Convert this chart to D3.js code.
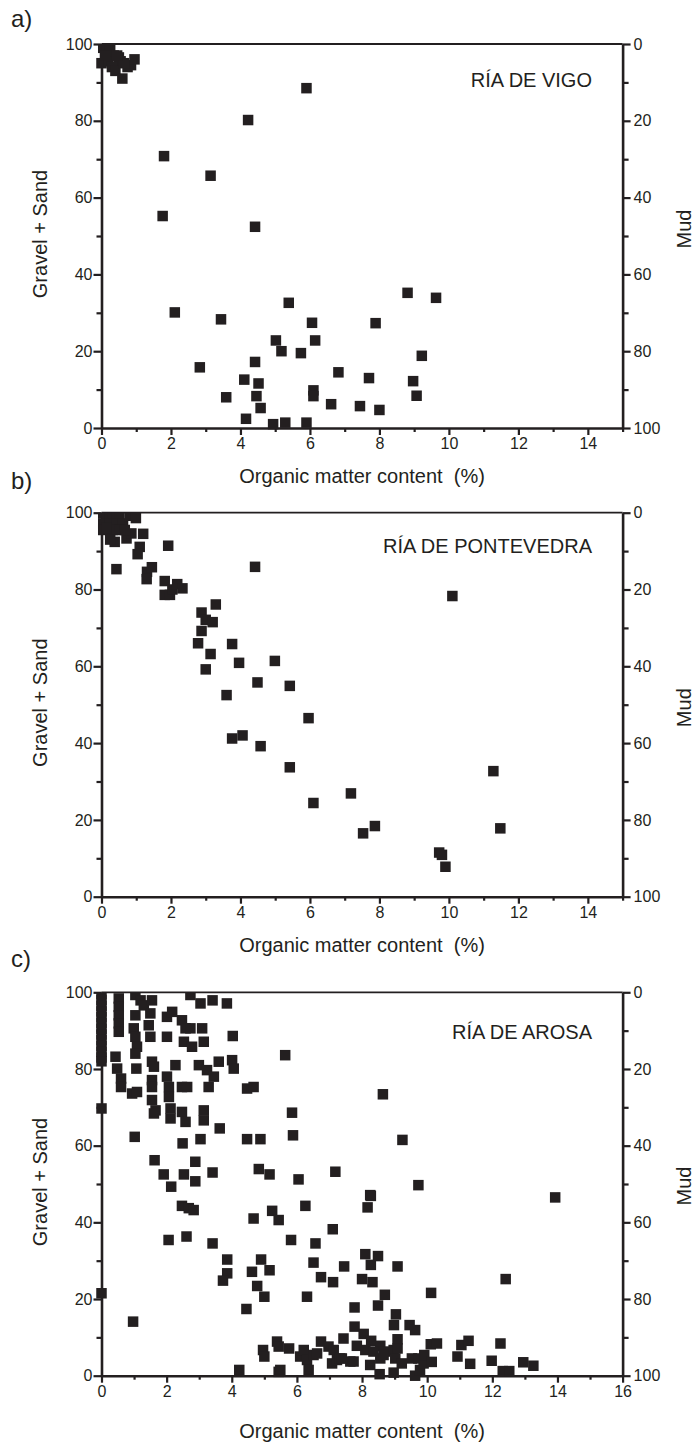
<!DOCTYPE html>
<html>
<head>
<meta charset="utf-8">
<script src="https://cdn.jsdelivr.net/npm/d3@7"></script>
<style>
  body { margin: 0; background: #fff; }
  svg { display: block; font-family: "Liberation Sans", Arial, sans-serif; }
  .axis text { font-size: 16px; fill: #231f20; }
  .axis path, .axis line { stroke: #231f20; }
</style>
</head>
<body>
<svg width="695" height="1445"></svg>
<script>
// organic matter (%) vs gravel + sand (%)
const vigoPoints = [
  [0.05,99],[0.15,99],[0.25,98.5],[0.35,97],[0.5,96.5],[0.55,95.5],[0.0,95],[0.2,95.5],[0.3,94],[0.4,93],
  [0.6,91],[0.75,94],[0.85,94.5],[0.95,96],[0.65,95],[0.45,97],[0.1,97],
  [5.9,88.5],[4.22,80.2],[1.80,70.8],[3.14,65.7],[1.76,55.2],[4.42,52.4],
  [2.11,30.1],[2.83,15.8],[3.44,28.3],[3.59,8.0],[4.11,12.6],[4.16,2.4],[4.42,17.2],[4.46,8.3],[4.52,11.6],
  [4.58,5.2],[4.94,1.0],[5.02,22.8],[5.18,20.0],[5.39,32.6],[5.29,1.4],[5.74,19.5],[5.90,1.4],[6.06,27.4],
  [6.15,22.8],[6.10,9.8],[6.10,8.3],[6.61,6.2],[6.82,14.5],
  [8.81,35.2],[9.63,33.9],[7.89,27.3],[9.22,18.8],[7.70,13.0],[8.97,12.2],[9.07,8.4],[7.44,5.7],[8.0,4.7]
];

const pontevedraPoints = [
  [0.05,99.8],[0.14,99],[0.24,99.5],[0.33,99],[0.43,99.8],[0.52,99],[0.05,97.2],[0.24,97.2],[0.43,97.2],
  [0.62,97.2],[0.05,95.5],[0.33,95.5],[0.52,95.5],[0.38,92.4],[0.72,93.3],[0.86,94.6],[0.67,95.5],[0.15,96],[0.25,93],
  [0.82,99.2],[0.99,98.6],[1.20,94.5],[1.10,91.1],[1.04,89.2],[0.43,85.3],[1.31,84.6],[1.45,85.8],[1.30,82.7],
  [1.92,91.4],[1.82,82.2],[1.82,78.6],[1.97,78.6],[2.04,80.0],[2.18,81.4],[2.33,80.3],[2.88,74.0],[3.29,76.1],
  [3.0,72.1],[3.20,71.5],[2.88,69.2],[2.78,66.0],[3.14,63.2],[3.0,59.2],[3.76,65.8],[3.96,60.9],[3.60,52.5],
  [4.42,85.9],[4.49,55.8],[4.99,61.4],[5.42,54.9],[5.96,46.5],[10.1,78.3],
  [3.76,41.2],[4.06,42.0],[4.58,39.2],[5.42,33.7],[6.10,24.4],[7.18,26.9],[7.53,16.5],[7.87,18.4],
  [9.72,11.5],[9.80,10.9],[9.90,7.8],[11.28,32.7],[11.48,17.8]
];

const arosaPoints = [
  [0,99.5],[0,98],[0,96.5],[0,95],[0,93.5],[0,92],[0,90.5],[0,89],[0,87.5],[0,86],[0,84.5],[0,83],[0,82],[0,69.7],[0,21.5],
  [0.53,98.4],[0.53,96.2],[0.53,94],[0.53,91.9],[0.53,89.7],[0.43,83.2],[0.48,80.1],[0.6,77.5],[0.6,75.3],
  [1.04,99.3],[1.2,97.9],[1.3,96.6],[1.04,94],[0.99,90.6],[1.04,88.4],[1.09,85.8],[1.04,84],[1.07,80.1],
  [0.94,73.6],[1.09,74],[1.02,62.3],
  [1.55,97.9],[1.5,94.5],[1.45,91.4],[1.5,88.4],[1.55,81.9],[1.61,80.6],[1.55,77.1],[1.55,75.3],[1.55,71.9],
  [1.66,69.2],[1.61,68.4],[1.63,56.2],
  [2.01,93.6],[2.17,94.9],[2.01,88.4],[2.27,81.0],[2.01,78],[2.07,75.3],[2.07,72.7],[2.47,75.3],[2.63,75.3],
  [2.12,69.7],[2.12,67.1],[2.47,68.8],[2.58,66.2],[1.91,52.5],[2.53,52.5],[2.88,55.8],[2.88,50.7],[3.41,53],[2.14,49.3],
  [2.47,92.7],[2.58,90.6],[2.73,90.6],[3.09,90.6],[2.53,87.1],[2.78,85.8],[3.14,87.1],[2.73,99.3],[3.04,97.1],
  [3.41,97.9],[3.85,97.1],[4.03,88.6],
  [2.99,81],[3.24,79.7],[3.6,81.9],[3.45,78],[3.29,75.3],[4.01,82.3],[4.06,80.1],[4.47,74.9],[4.67,75.3],
  [3.14,69.2],[3.14,66.6],[3.63,64.5],[3.04,61.7],[2.49,60.6],[4.47,61.7],[4.88,61.7],[5.85,68.6],[5.88,62.7],[5.64,83.6],
  [4.83,53.9],[5.16,52.5],[6.05,51.2],[7.18,53.2],
  [8.64,73.4],[9.24,61.5],[9.73,49.7],[8.25,47.1],[13.93,46.5],
  [2.47,44.3],[2.68,43.7],[2.83,43.2],[2.06,35.4],[2.61,36.3],[3.41,34.5],[3.86,30.3],[3.86,26.7],[3.73,24.8],
  [4.67,41.0],[5.24,43.0],[5.44,40.6],[4.62,27.1],[4.90,30.3],[4.78,23.4],[5.16,27.5],[5.0,20.6],[4.45,17.4],
  [6.26,44.3],[5.82,35.4],[6.57,34.5],[6.51,29.5],[6.74,25.7],[7.10,38.2],[7.11,24.4],[6.31,20.6],[7.45,28.5],
  [0.97,14.1],[4.23,1.5],
  [4.96,6.7],[5.0,5.0],[5.39,8.9],[5.44,7.6],[5.76,7.1],[5.44,1.0],[5.49,1.5],[6.10,5.0],[6.21,6.7],[6.31,4.1],
  [6.36,1.5],[6.51,5.4],[6.62,5.8],[6.74,8.9],[6.97,7.6],[7.13,6.7],[7.08,3.2],[7.23,4.1],[7.33,4.5],[7.43,9.7],[7.64,3.7],
  [8.27,46.9],[8.17,43.9],[8.10,31.7],[8.49,31.2],[8.27,28.9],[9.09,28.5],[8.0,25.2],[8.32,24.4],[8.70,21.1],
  [10.12,21.6],[12.41,25.2],[7.77,17.8],[8.49,18.3],[9.04,16.0],[8.98,13.2],[9.46,13.2],[9.63,11.9],[7.77,12.8],
  [8.05,10.9],[8.28,9.1],[9.09,9.5],[7.84,7.8],[8.56,7.8],[8.10,6.7],[8.35,6.3],[8.71,6.3],[8.97,6.7],[9.09,7.1],
  [7.38,4.5],[7.74,3.7],[8.25,2.8],[8.56,4.5],[8.66,5.4],[9.02,4.5],[9.22,3.2],[9.53,4.5],[9.73,4.5],[8.54,0.4],
  [8.97,0.8],[9.63,0],[9.78,1.5],[9.89,3.2],[9.91,5.4],[10.14,3.6],[10.11,8.2],[10.30,8.4],[11.05,8.0],[11.27,9.1],
  [10.93,5.0],[11.32,3.1],[11.98,3.9],[12.25,8.4],[12.32,1.2],[12.52,1.2],[12.95,3.5],[13.26,2.6]
];

const yMajor = [0, 20, 40, 60, 80, 100];
const yMinor = [10, 30, 50, 70, 90];
const xMajor15 = [0, 2, 4, 6, 8, 10, 12, 14];
const xMinor15 = [1, 3, 5, 7, 9, 11, 13, 15];
const xMajor16 = [0, 2, 4, 6, 8, 10, 12, 14, 16];
const xMinor16 = [1, 3, 5, 7, 9, 11, 13, 15];

const ink = "#231f20";
const left = 101.5, right = 622.6;
const svg = d3.select("svg");

const panels = [
  { tag: "a)", name: "RÍA DE VIGO", data: vigoPoints, xMax: 15, xMajor: xMajor15, xMinor: xMinor15,
    top: 44, bottom: 428, tagY: 27, nameY: 86.5, titleY: 483, mudShift: -7 },
  { tag: "b)", name: "RÍA DE PONTEVEDRA", data: pontevedraPoints, xMax: 15, xMajor: xMajor15, xMinor: xMinor15,
    top: 512.7, bottom: 896.7, tagY: 489, nameY: 553.3, titleY: 952, mudShift: 3 },
  { tag: "c)", name: "RÍA DE AROSA", data: arosaPoints, xMax: 16, xMajor: xMajor16, xMinor: xMinor16,
    top: 992.3, bottom: 1375.7, tagY: 967, nameY: 1039.3, titleY: 1437.5, mudShift: 2 }
];

panels.forEach((p, i) => {
  const x = d3.scaleLinear().domain([0, p.xMax]).range([left, right]);
  const y = d3.scaleLinear().domain([0, 100]).range([p.bottom, p.top]);
  const mud = d3.scaleLinear().domain([100, 0]).range([p.bottom, p.top]);
  const g = svg.append("g");

  // top frame line
  g.append("line")
    .attr("x1", left).attr("x2", right)
    .attr("y1", p.top).attr("y2", p.top)
    .attr("stroke", ink).attr("stroke-width", 1.8);

  // minor ticks
  g.append("g").attr("class", "axis")
    .attr("transform", `translate(${left},0)`)
    .call(d3.axisLeft(y).tickValues(yMinor).tickSize(5).tickFormat("").tickSizeOuter(0))
    .call(s => s.select(".domain").remove());
  g.append("g").attr("class", "axis")
    .attr("transform", `translate(${right},0)`)
    .call(d3.axisRight(mud).tickValues(yMinor).tickSize(6).tickFormat("").tickSizeOuter(0))
    .call(s => s.select(".domain").remove());
  g.append("g").attr("class", "axis")
    .attr("transform", `translate(0,${p.bottom})`)
    .call(d3.axisBottom(x).tickValues(p.xMinor).tickSize(4).tickFormat("").tickSizeOuter(0))
    .call(s => s.select(".domain").remove());

  // major axes
  const ax = [
    g.append("g").attr("class", "axis")
      .attr("transform", `translate(${left},0)`)
      .call(d3.axisLeft(y).tickValues(yMajor).tickSize(8).tickPadding(1).tickSizeOuter(0)),
    g.append("g").attr("class", "axis")
      .attr("transform", `translate(${right},0)`)
      .call(d3.axisRight(mud).tickValues(yMajor).tickSize(8).tickPadding(3).tickSizeOuter(0)),
    g.append("g").attr("class", "axis")
      .attr("transform", `translate(0,${p.bottom})`)
      .call(d3.axisBottom(x).tickValues(p.xMajor).tickSize(7).tickPadding(3).tickSizeOuter(0))
  ];
  g.selectAll(".axis line").attr("stroke-width", 2.2);
  ax.forEach(a => a.select(".domain").attr("stroke-width", 2.6));

  // clip the markers at the top frame
  svg.append("clipPath").attr("id", "clip" + i)
    .append("rect").attr("x", 0).attr("y", p.top).attr("width", 695).attr("height", p.bottom - p.top + 20);

  const s = 10.5;
  g.append("g").attr("clip-path", `url(#clip${i})`)
    .selectAll("rect").data(p.data).join("rect")
    .attr("x", d => x(d[0]) - s / 2)
    .attr("y", d => y(d[1]) - s / 2)
    .attr("width", s).attr("height", s)
    .attr("fill", ink);

  // texts
  g.append("text").attr("x", 11).attr("y", p.tagY)
    .attr("font-size", 24).attr("fill", ink).text(p.tag);

  g.append("text").attr("x", 592).attr("y", p.nameY)
    .attr("text-anchor", "end").attr("font-size", 20).attr("fill", ink).text(p.name);

  g.append("text").attr("x", (left + right) / 2).attr("y", p.titleY)
    .attr("text-anchor", "middle").attr("font-size", 20).attr("fill", ink)
    .text("Organic matter content\u00a0 (%)");

  const cy = (p.top + p.bottom) / 2;
  g.append("text").attr("transform", `translate(46.5,${cy - 2}) rotate(-90)`)
    .attr("text-anchor", "middle").attr("font-size", 20).attr("fill", ink)
    .text("Gravel + Sand");

  g.append("text").attr("transform", `translate(691,${cy + p.mudShift}) rotate(-90)`)
    .attr("text-anchor", "middle").attr("font-size", 20).attr("fill", ink)
    .text("Mud");
});
</script>
</body>
</html>
